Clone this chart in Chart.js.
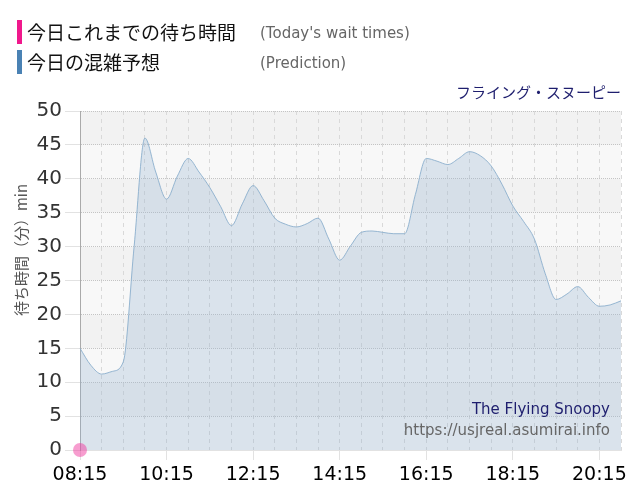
<!DOCTYPE html>
<html>
<head>
<meta charset="utf-8">
<script src="https://cdn.jsdelivr.net/npm/chart.js@4"></script>
<style>
  body { margin: 0; background: #fff; font-family: "DejaVu Sans", "Noto Sans CJK JP", sans-serif; }
  #wrap { position: relative; width: 640px; height: 500px; }
  .leg { position: absolute; left: 17px; height: 24px; border-left: 5px solid; }
  .leg .jp { position: absolute; left: 5px; top: 0; font-size: 19px; line-height: 24px; color: #111; white-space: nowrap; font-family: "Noto Sans CJK JP", sans-serif; }
  .leg .en { position: absolute; left: 238px; top: 2px; font-size: 15px; line-height: 22px; color: #666; white-space: nowrap; }
</style>
</head>
<body>
<div id="wrap">
  <canvas id="waitChart" width="640" height="500"></canvas>
  <div class="leg" style="top:20px; border-color:#f0188c;"><span class="jp">今日これまでの待ち時間</span><span class="en">(Today's wait times)</span></div>
  <div class="leg" style="top:50px; border-color:#4a82b4;"><span class="jp">今日の混雑予想</span><span class="en">(Prediction)</span></div>
</div>
<script>
// 15分ごと 08:15 - 20:45
const timeLabels = [
  "08:15","08:30","08:45","09:00","09:15","09:30","09:45","10:00","10:15","10:30",
  "10:45","11:00","11:15","11:30","11:45","12:00","12:15","12:30","12:45","13:00",
  "13:15","13:30","13:45","14:00","14:15","14:30","14:45","15:00","15:15","15:30",
  "15:45","16:00","16:15","16:30","16:45","17:00","17:15","17:30","17:45","18:00",
  "18:15","18:30","18:45","19:00","19:15","19:30","19:45","20:00","20:15","20:30",
  "20:45"
];
const predictionValues = [
  15, 12.5, 11.2, 11.6, 13, 30, 46, 41, 37, 40.4,
  43, 41, 38.7, 35.9, 33.1, 36.3, 39, 36.8, 34.2, 33.3,
  32.9, 33.4, 34.2, 31.1, 28, 30.1, 32.1, 32.3, 32.1, 31.9,
  31.9, 37.7, 43, 42.6, 42.1, 43, 44, 43.4, 41.9, 39.2,
  36, 33.7, 31.1, 26, 22.2, 23, 24.1, 22.5, 21.2, 21.4,
  22
];
const todayValues = [0];
const yTicks = [0, 5, 10, 15, 20, 25, 30, 35, 40, 45, 50];

const bandPlugin = {
  id: "bands",
  beforeDraw: (chart) => {
    const {ctx, chartArea, scales} = chart;
    ctx.save();
    for (let k = 0; k < yTicks.length - 1; k++) {
      const top = scales.y.getPixelForValue(yTicks[k + 1]);
      const bottom = scales.y.getPixelForValue(yTicks[k]);
      ctx.fillStyle = k % 2 === 1 ? "#f2f2f2" : "#f8f8f8";
      ctx.fillRect(chartArea.left, top, chartArea.right - chartArea.left, bottom - top);
    }
    ctx.restore();
  },
  afterDatasetsDraw: (chart) => {
    const {ctx, chartArea} = chart;
    ctx.save();
    ctx.textAlign = "right";
    ctx.textBaseline = "middle";
    ctx.font = '15px "DejaVu Sans"';
    ctx.fillStyle = "#1e1e6e";
    ctx.fillText("The Flying Snoopy", chartArea.right - 11, 410);
    ctx.fillStyle = "#666";
    ctx.fillText("https://usjreal.asumirai.info", chartArea.right - 11, 431);
    // y axis title
    ctx.translate(21, 250);
    ctx.rotate(-Math.PI / 2);
    ctx.textAlign = "center";
    ctx.font = '15px "Noto Sans CJK JP"';
    ctx.fillStyle = "#555";
    ctx.fillText("待ち時間（分）min", 0, 0);
    ctx.restore();
  }
};

const waitChart = new Chart(
  document.getElementById("waitChart"), {
    type: "line",
    data: {
      labels: timeLabels,
      datasets: [
        {
          label: "今日これまでの待ち時間",
          data: todayValues,
          showLine: false,
          pointRadius: 7,
          pointBorderWidth: 0,
          pointBackgroundColor: "rgba(240, 60, 160, 0.5)",
          clip: false
        },
        {
          label: "今日の混雑予想",
          data: predictionValues,
          fill: "origin",
          backgroundColor: "rgba(150, 180, 210, 0.3)",
          borderColor: "rgba(140, 175, 205, 0.9)",
          borderWidth: 1,
          pointRadius: 0,
          cubicInterpolationMode: "monotone"
        }
      ]
    },
    options: {
      responsive: false,
      animation: false,
      layout: { padding: { left: 0, right: 19, top: 0, bottom: 0 } },
      plugins: {
        legend: { display: false },
        tooltip: { enabled: false },
        title: {
          display: true,
          text: "フライング・スヌーピー",
          align: "end",
          color: "#1e1e6e",
          font: { size: 15, family: '"Noto Sans CJK JP"', weight: "normal" },
          padding: { top: 83, bottom: 10 }
        }
      },
      scales: {
        x: {
          afterFit: (scale) => { scale.height = 50; },
          ticks: {
            autoSkip: false,
            maxRotation: 0,
            color: "#000",
            font: { size: 19, family: '"DejaVu Sans"' },
            padding: 4,
            callback: (val, i) => (i % 8 === 0 ? timeLabels[i] : "")
          },
          grid: {
            color: (c) => (c.index % 2 === 0 ? "#d9d9d9" : "transparent"),
            tickColor: (c) => (c.index % 8 === 0 ? "#e2e2e2" : "transparent"),
            tickLength: 10
          },
          border: { display: true, color: "#e2e2e2", dash: [4, 4] }
        },
        y: {
          min: 0,
          max: 50,
          afterFit: (scale) => { scale.width = 80; },
          ticks: {
            stepSize: 5,
            color: "#333",
            font: { size: 20, family: '"DejaVu Sans"' },
            padding: 3
          },
          grid: {
            color: "#c4c4c4",
            tickColor: "#e2e2e2",
            tickLength: 15
          },
          border: { display: true, color: "#aaa", dash: [1, 1] }
        }
      }
    },
    plugins: [bandPlugin]
  }
);
</script>
</body>
</html>
